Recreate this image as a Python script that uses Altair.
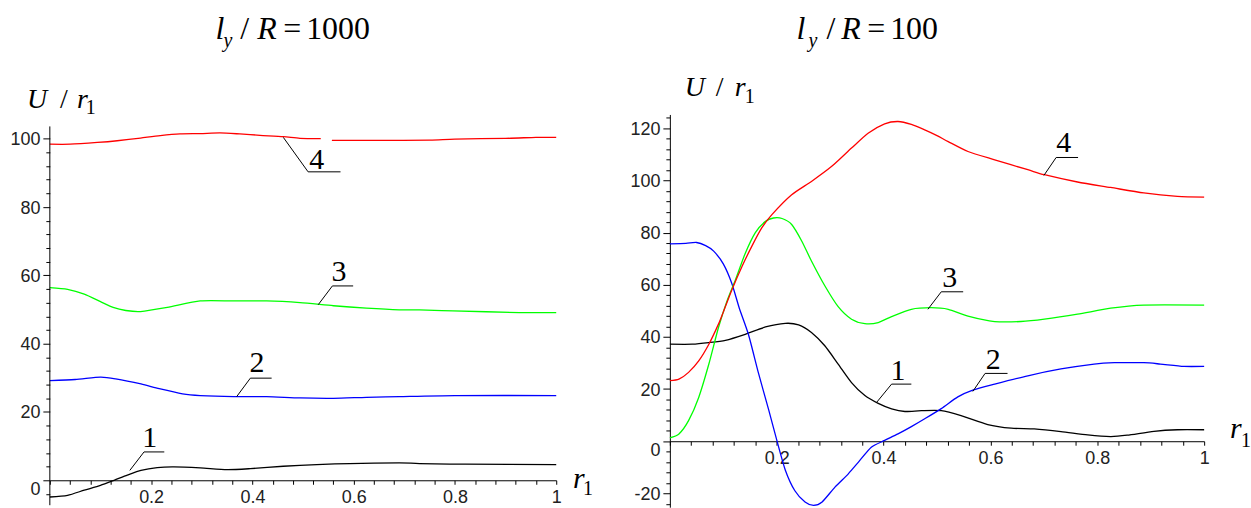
import altair as alt
import pandas as pd

# ---------------- left panel: l_y / R = 1000 ----------------
L1_x = [0, 0.035, 0.068, 0.1, 0.127, 0.153, 0.18, 0.212, 0.245, 0.297, 0.35, 0.396, 0.461, 0.527, 0.592, 0.69, 0.73, 0.82, 1.0]
L1_y = [-4.9, -4.4, -2.9, -1.5, 0.0, 1.5, 2.9, 3.7, 3.9, 3.6, 3.1, 3.4, 4.1, 4.6, 4.9, 5.1, 4.9, 4.7, 4.6]

L2_x = [0, 0.05, 0.1, 0.13, 0.18, 0.216, 0.262, 0.297, 0.363, 0.428, 0.494, 0.56, 0.625, 0.69, 0.8, 1.0]
L2_y = [29.2, 29.5, 30.2, 29.7, 28.2, 26.8, 25.3, 24.8, 24.5, 24.5, 24.1, 24.0, 24.3, 24.5, 24.8, 24.8]

L3_x = [0, 0.035, 0.068, 0.1, 0.125, 0.15, 0.179, 0.232, 0.297, 0.363, 0.428, 0.494, 0.56, 0.625, 0.69, 0.73, 0.796, 0.927, 1.0]
L3_y = [56.4, 55.9, 54.5, 52.3, 50.6, 49.7, 49.4, 50.6, 52.5, 52.5, 52.5, 52.0, 51.1, 50.4, 49.9, 49.9, 49.6, 49.1, 49.1]

# curve 4 is drawn in two pieces (small break near r1 = 0.545)
L4a_x = [0, 0.04, 0.094, 0.133, 0.179, 0.218, 0.257, 0.297, 0.336, 0.375, 0.415, 0.461, 0.494, 0.535]
L4a_y = [98.4, 98.4, 98.9, 99.4, 100.2, 100.9, 101.4, 101.5, 101.7, 101.4, 101.0, 100.6, 100.1, 100.0]
L4b_x = [0.557, 0.65, 0.75, 0.8, 0.9, 0.96, 1.0]
L4b_y = [99.5, 99.5, 99.6, 99.9, 100.1, 100.4, 100.4]

# ---------------- right panel: l_y / R = 100 ----------------
R1_x = [0, 0.042, 0.073, 0.104, 0.141, 0.179, 0.216, 0.241, 0.265, 0.29, 0.315, 0.34, 0.365, 0.39, 0.415, 0.44,
        0.471, 0.508, 0.545, 0.595, 0.639, 0.682, 0.732, 0.782, 0.825, 0.856, 0.906, 0.95, 1.0]
R1_y = [37.2, 37.2, 37.8, 38.7, 41.0, 43.8, 45.2, 44.6, 41.7, 36.6, 29.6, 22.5, 17.5, 14.5, 12.4, 11.4,
        11.7, 11.7, 9.8, 6.4, 5.0, 4.7, 3.7, 2.4, 1.8, 2.3, 3.8, 4.4, 4.4]

R2_x = [0, 0.03, 0.05, 0.067, 0.082, 0.1, 0.116, 0.13, 0.147, 0.166, 0.185, 0.2, 0.216, 0.234, 0.253, 0.269,
        0.285, 0.309, 0.334, 0.353, 0.377, 0.402, 0.427, 0.452, 0.477, 0.508, 0.539, 0.567, 0.608, 0.67,
        0.732, 0.794, 0.832, 0.887, 0.918, 0.962, 1.0]
R2_y = [75.7, 75.9, 76.2, 75.0, 72.9, 68.0, 60.5, 51.0, 41.0, 26.0, 12.0, 0.5, -11.0, -19.0, -23.3, -24.6,
        -23.3, -17.6, -12.5, -8.0, -2.3, 0.3, 2.8, 5.6, 8.6, 12.5, 17.0, 19.6, 21.9, 25.1,
        27.7, 29.6, 30.1, 30.1, 29.6, 28.7, 28.7]

R3_x = [0, 0.017, 0.035, 0.054, 0.073, 0.091, 0.107, 0.123, 0.141, 0.16, 0.179, 0.194, 0.21, 0.228, 0.247,
        0.265, 0.29, 0.315, 0.34, 0.365, 0.39, 0.415, 0.452, 0.489, 0.521, 0.558, 0.608, 0.657, 0.701,
        0.763, 0.825, 0.887, 1.0]
R3_y = [1.3, 2.8, 7.9, 16.8, 29.6, 43.6, 53.8, 62.0, 72.0, 80.0, 84.3, 85.6, 85.4, 83.1, 76.7,
        69.1, 59.6, 51.6, 46.8, 45.1, 45.5, 47.8, 50.6, 51.2, 50.6, 48.0, 45.9, 45.9, 46.8,
        48.7, 51.0, 52.2, 52.2]

R4_x = [0, 0.017, 0.035, 0.054, 0.073, 0.091, 0.1, 0.116, 0.135, 0.154, 0.172, 0.191, 0.228, 0.265, 0.303,
        0.34, 0.371, 0.402, 0.427, 0.452, 0.477, 0.5, 0.521, 0.558, 0.608, 0.67, 0.701, 0.763, 0.825,
        0.887, 0.95, 1.0]
R4_y = [23.2, 23.8, 26.4, 30.8, 37.2, 44.9, 49.5, 58.0, 67.0, 75.0, 81.8, 86.9, 94.5, 99.6, 105.4,
        112.4, 118.1, 121.7, 122.6, 121.5, 119.4, 117.2, 114.9, 111.1, 107.9, 104.1, 102.2, 99.4, 97.3,
        95.2, 93.9, 93.6]

# curve number callouts: (number, start x, start y, corner x, corner y, end x, text x, text y)
LEFT_CALLOUTS = [
    ("1", 0.158, 2.9, 0.186, 8.3, 0.226, 0.197, 9.7),
    ("2", 0.369, 24.5, 0.396, 29.9, 0.438, 0.409, 31.6),
    ("3", 0.530, 51.4, 0.558, 56.9, 0.599, 0.571, 58.4),
    ("4", 0.461, 100.4, 0.510, 90.3, 0.574, 0.527, 91.2),
]
RIGHT_CALLOUTS = [
    ("1", 0.387, 14.9, 0.415, 21.9, 0.452, 0.427, 23.6),
    ("2", 0.567, 19.1, 0.590, 26.0, 0.632, 0.605, 27.7),
    ("3", 0.483, 50.6, 0.508, 57.3, 0.549, 0.524, 59.1),
    ("4", 0.700, 101.9, 0.723, 108.8, 0.764, 0.737, 110.8),
]

CURVE_IDS = ["1", "2", "3", "4"]
CURVE_COLORS = ["#000000", "#0000ff", "#00ff00", "#ff0000"]

SERIF = "Liberation Serif"
SANS = "Liberation Sans"


def curves_frame(series):
    rows = []
    for cid, seg, xs, ys in series:
        for x, y in zip(xs, ys):
            rows.append({"x": x, "y": y, "curve": cid, "seg": seg})
    return pd.DataFrame(rows)


def runs_frame(runs, ppx, ppy):
    # text runs: anchor in data units, pieces offset in pixels
    rows = []
    for ax, ay, pieces in runs:
        for txt, style, fs, dx, dy in pieces:
            rows.append({"x": ax + dx / ppx, "y": ay - dy / ppy, "t": txt, "style": style, "fs": fs})
    return pd.DataFrame(rows)


def panel(series, callouts, runs, ydom, width, height, y_ticks, y_line=None):
    ppx = width / 1.0
    ppy = height / (ydom[1] - ydom[0])
    x_offset = -(0 - ydom[0]) * ppy

    x_ticks = [round(0.04 * i, 2) for i in range(26)]
    x_axis = alt.Axis(
        values=x_ticks, orient="bottom", offset=x_offset, grid=False,
        domainColor="black", tickColor="black", tickSize=4, labelPadding=4,
        labelFont=SANS, labelFontSize=18, labelColor="#222", labelFlush=False, labelOverlap=False,
        labelExpr="datum.value > 0 && abs(datum.value*5 - round(datum.value*5)) < 0.001 ? format(datum.value, '.1~f') : ''",
    )
    y_axis = alt.Axis(
        values=y_ticks, grid=False, domain=y_line is None,
        domainColor="black", tickColor="black",
        tickSize={"condition": {"test": "datum.value % 20 === 0", "value": 7}, "value": 4},
        labelOffset={"condition": {"test": "datum.value === 0", "value": 9}, "value": 1},
        labelPadding=3, labelFont=SANS, labelFontSize=18, labelColor="#222",
        labelFlush=False, labelOverlap=False,
        labelExpr="datum.value % 20 === 0 ? '' + datum.value : ''",
    )
    X = alt.X("x:Q", scale=alt.Scale(domain=[0, 1], nice=False, zero=False), axis=x_axis, title=None)
    Y = alt.Y("y:Q", scale=alt.Scale(domain=ydom, nice=False, zero=False), axis=y_axis, title=None)

    lines = alt.Chart(curves_frame(series)).mark_line(strokeWidth=1.3, interpolate="cardinal", tension=0.3).encode(
        x=X, y=Y,
        color=alt.Color("curve:N", scale=alt.Scale(domain=CURVE_IDS, range=CURVE_COLORS), legend=None),
        detail="seg:N",
    )

    lead_rows = []
    for _, sx, sy, cx, cy, ex, _, _ in callouts:
        lead_rows.append({"x": sx, "y": sy, "x2": cx, "y2": cy})
        lead_rows.append({"x": cx, "y": cy, "x2": ex, "y2": cy})
    leaders = alt.Chart(pd.DataFrame(lead_rows)).mark_rule(color="black", strokeWidth=1).encode(
        x=X, y=Y, x2="x2:Q", y2="y2:Q"
    )

    num_df = pd.DataFrame([{"x": c[6], "y": c[7], "t": c[0]} for c in callouts])
    numbers = alt.Chart(num_df).mark_text(
        font=SERIF, fontSize=30, align="center", baseline="alphabetic", color="black"
    ).encode(x=X, y=Y, text="t:N")

    rdf = runs_frame(runs, ppx, ppy)
    text_layers = []
    for style in ["italic", "normal"]:
        sub = rdf[rdf["style"] == style]
        text_layers.append(
            alt.Chart(sub).mark_text(
                font=SERIF, fontStyle=style, align="left", baseline="alphabetic", color="black"
            ).encode(x=X, y=Y, text="t:N", size=alt.Size("fs:Q", scale=None))
        )

    layers = [lines, leaders, numbers] + text_layers
    if y_line is not None:
        axis_line = alt.Chart(pd.DataFrame([{"x": 0, "y": y_line[0], "y2": y_line[1]}])).mark_rule(
            color="black", strokeWidth=1
        ).encode(x=X, y=Y, y2="y2:Q")
        layers.append(axis_line)

    return alt.layer(*layers).properties(width=width, height=height)


left_series = [("1", "a", L1_x, L1_y), ("2", "a", L2_x, L2_y), ("3", "a", L3_x, L3_y),
               ("4", "a", L4a_x, L4a_y), ("4", "b", L4b_x, L4b_y)]
right_series = [("1", "a", R1_x, R1_y), ("2", "a", R2_x, R2_y), ("3", "a", R3_x, R3_y),
                ("4", "a", R4_x, R4_y)]

# (anchor x, anchor baseline y, [(text, style, size, dx px, dy px)])
left_runs = [
    (0.327, 129.3, [("l", "italic", 32, 0, 0), ("y", "italic", 20, 8, 8), ("/", "normal", 32, 25, 0),
                    ("R", "italic", 32, 42, 0), ("=", "normal", 32, 68, 0), ("1000", "normal", 32, 91, 0)]),
    (-0.045, 108.9, [("U", "italic", 28, 0, 0), ("/", "normal", 28, 33, 0), ("r", "italic", 28, 50, 0),
                     ("1", "normal", 20, 59, 6)]),
    (1.033, -2.33, [("r", "italic", 30, 0, 0), ("1", "normal", 20, 10, 7)]),
]
right_runs = [
    (0.237, 154.3, [("l", "italic", 32, 0, 0), ("y", "italic", 20, 12, 8), ("/", "normal", 32, 30, 0),
                    ("R", "italic", 32, 45, 0), ("=", "normal", 32, 71, 0), ("100", "normal", 32, 94, 0)]),
    (0.028, 132.2, [("U", "italic", 28, 0, 0), ("/", "normal", 28, 31, 0), ("r", "italic", 28, 50, 0),
                    ("1", "normal", 20, 60, 7)]),
    (1.0485, 1.07, [("r", "italic", 30, 0, 0), ("1", "normal", 20, 11, 9)]),
]

left = panel(left_series, LEFT_CALLOUTS, left_runs, [-7.3, 107.1], 508, 392,
             list(range(-4, 101, 4)), y_line=(-7.3, 103.6))
right = panel(right_series, RIGHT_CALLOUTS, right_runs, [-25.3, 125.3], 536, 394,
              list(range(-24, 125, 4)))

chart = alt.hconcat(left, right, spacing=114, bounds="flush").properties(
    padding={"left": 9, "top": 11, "right": 0, "bottom": 0},
    background="white",
).configure_view(strokeWidth=0)

chart.save("out.html", embed_options={"renderer": "svg", "actions": False})
